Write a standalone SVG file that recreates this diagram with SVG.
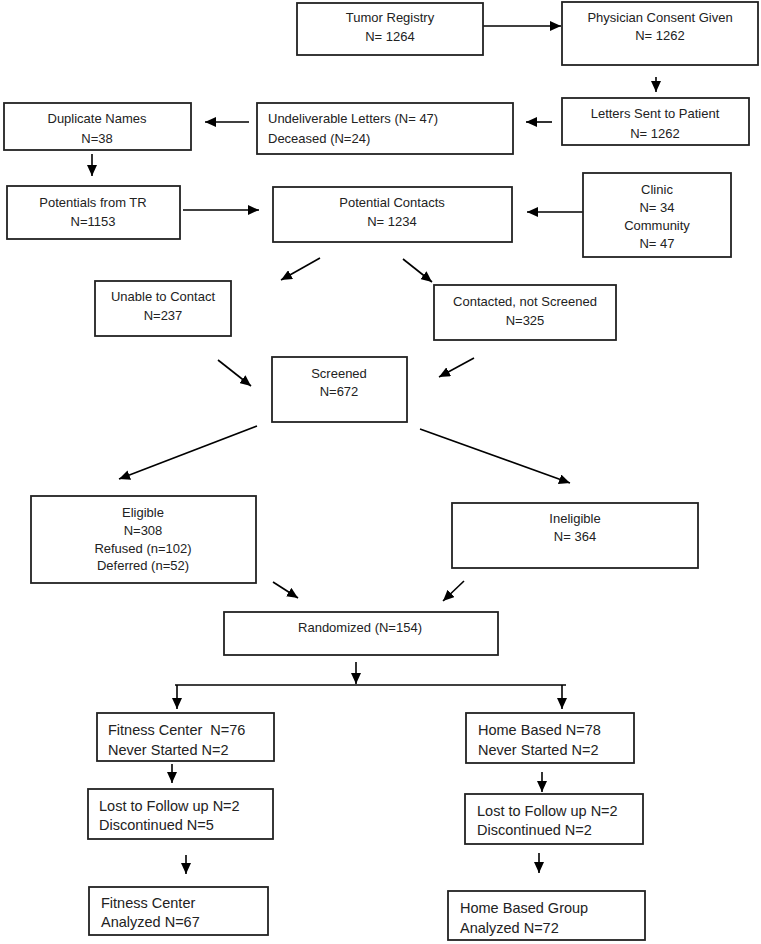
<svg xmlns="http://www.w3.org/2000/svg" width="761" height="944" viewBox="0 0 761 944">
<style>
rect.box{fill:#fff;stroke:#222;stroke-width:1.8}
text{font-family:"Liberation Sans",Arial,sans-serif;font-size:13px;fill:#222;white-space:pre}
text.c{text-anchor:middle}
text.b{font-size:14.5px}
.con line{stroke:#000;stroke-width:1.6;fill:none}
</style>
<defs>
<marker id="ah" markerUnits="userSpaceOnUse" markerWidth="12" markerHeight="10" refX="11" refY="5" orient="auto">
<path d="M0,0 L11,5 L0,10 z" fill="#000"/>
</marker>
</defs>
<rect width="761" height="944" fill="#fff"/>
<g class="con">
<line x1="483" y1="26" x2="561" y2="26" marker-end="url(#ah)"/>
<line x1="656" y1="77" x2="656" y2="92" marker-end="url(#ah)"/>
<line x1="552" y1="122" x2="526" y2="122" marker-end="url(#ah)"/>
<line x1="249" y1="122" x2="205" y2="122" marker-end="url(#ah)"/>
<line x1="92" y1="154" x2="92" y2="176" marker-end="url(#ah)"/>
<line x1="183" y1="210" x2="259" y2="210" marker-end="url(#ah)"/>
<line x1="583" y1="212" x2="527" y2="212" marker-end="url(#ah)"/>
<line x1="320" y1="258" x2="281" y2="280" marker-end="url(#ah)"/>
<line x1="403" y1="259" x2="432" y2="282" marker-end="url(#ah)"/>
<line x1="218" y1="360" x2="251" y2="386" marker-end="url(#ah)"/>
<line x1="474" y1="358" x2="439" y2="377" marker-end="url(#ah)"/>
<line x1="257" y1="426" x2="119" y2="479" marker-end="url(#ah)"/>
<line x1="420" y1="429" x2="570" y2="483" marker-end="url(#ah)"/>
<line x1="273" y1="582" x2="298" y2="598" marker-end="url(#ah)"/>
<line x1="464" y1="581" x2="443" y2="601" marker-end="url(#ah)"/>
<line x1="356" y1="662" x2="356" y2="684" marker-end="url(#ah)"/>
<line x1="175" y1="685" x2="566" y2="685"/>
<line x1="177" y1="685" x2="177" y2="709" marker-end="url(#ah)"/>
<line x1="562" y1="685" x2="562" y2="709" marker-end="url(#ah)"/>
<line x1="172" y1="764" x2="172" y2="783" marker-end="url(#ah)"/>
<line x1="186" y1="855" x2="186" y2="874" marker-end="url(#ah)"/>
<line x1="542" y1="772" x2="542" y2="792" marker-end="url(#ah)"/>
<line x1="539" y1="853" x2="539" y2="873" marker-end="url(#ah)"/>
</g>
<g id="tumor-registry"><rect class="box" x="297" y="3" width="186" height="52"/><text class="c" x="390" y="22">Tumor Registry</text><text class="c" x="390" y="41">N= 1264</text></g>
<g id="physician-consent"><rect class="box" x="562" y="2" width="196" height="63"/><text class="c" x="660" y="22">Physician Consent Given</text><text class="c" x="660" y="40">N= 1262</text></g>
<g id="letters-sent"><rect class="box" x="562" y="98" width="187" height="47"/><text class="c" x="655" y="118">Letters Sent to Patient</text><text class="c" x="655" y="138">N= 1262</text></g>
<g id="undeliverable"><rect class="box" x="257" y="103" width="256" height="51"/><text x="268" y="123">Undeliverable Letters (N= 47)</text><text x="268" y="143">Deceased (N=24)</text></g>
<g id="duplicate"><rect class="box" x="4" y="103" width="187" height="47"/><text class="c" x="97" y="123">Duplicate Names</text><text class="c" x="97" y="143">N=38</text></g>
<g id="potentials-tr"><rect class="box" x="7" y="186" width="173" height="53"/><text class="c" x="93" y="207">Potentials from TR</text><text class="c" x="93" y="226">N=1153</text></g>
<g id="potential-contacts"><rect class="box" x="273" y="187" width="239" height="55"/><text class="c" x="392" y="207">Potential Contacts</text><text class="c" x="392" y="226">N= 1234</text></g>
<g id="clinic"><rect class="box" x="583" y="173" width="148" height="84"/><text class="c" x="657" y="194">Clinic</text><text class="c" x="657" y="212">N= 34</text><text class="c" x="657" y="230">Community</text><text class="c" x="657" y="248">N= 47</text></g>
<g id="unable"><rect class="box" x="95" y="281" width="136" height="55"/><text class="c" x="163" y="301">Unable to Contact</text><text class="c" x="163" y="320">N=237</text></g>
<g id="contacted"><rect class="box" x="434" y="285" width="182" height="55"/><text class="c" x="525" y="306">Contacted, not Screened</text><text class="c" x="525" y="325">N=325</text></g>
<g id="screened"><rect class="box" x="272" y="357" width="135" height="65"/><text class="c" x="339" y="378">Screened</text><text class="c" x="339" y="396">N=672</text></g>
<g id="eligible"><rect class="box" x="31" y="496" width="225" height="87"/><text class="c" x="143" y="517">Eligible</text><text class="c" x="143" y="535">N=308</text><text class="c" x="143" y="553">Refused (n=102)</text><text class="c" x="143" y="570">Deferred (n=52)</text></g>
<g id="ineligible"><rect class="box" x="452" y="503" width="246" height="65"/><text class="c" x="575" y="523">Ineligible</text><text class="c" x="575" y="541">N= 364</text></g>
<g id="randomized"><rect class="box" x="224" y="612" width="274" height="43"/><text class="c" x="360" y="632">Randomized (N=154)</text></g>
<g id="fitness-center"><rect class="box" x="97" y="713" width="177" height="48"/><text class="b" x="108" y="735">Fitness Center  N=76</text><text class="b" x="108" y="755">Never Started N=2</text></g>
<g id="lost-fitness"><rect class="box" x="88" y="789" width="185" height="50"/><text class="b" x="99" y="811">Lost to Follow up N=2</text><text class="b" x="99" y="830">Discontinued N=5</text></g>
<g id="fitness-analyzed"><rect class="box" x="89" y="887" width="179" height="48"/><text class="b" x="101" y="908">Fitness Center</text><text class="b" x="101" y="927">Analyzed N=67</text></g>
<g id="home-based"><rect class="box" x="466" y="713" width="168" height="50"/><text class="b" x="478" y="735">Home Based N=78</text><text class="b" x="478" y="755">Never Started N=2</text></g>
<g id="lost-home"><rect class="box" x="465" y="794" width="178" height="50"/><text class="b" x="477" y="816">Lost to Follow up N=2</text><text class="b" x="477" y="835">Discontinued N=2</text></g>
<g id="home-analyzed"><rect class="box" x="448" y="891" width="197" height="49"/><text class="b" x="460" y="913">Home Based Group</text><text class="b" x="460" y="933">Analyzed N=72</text></g>
</svg>
